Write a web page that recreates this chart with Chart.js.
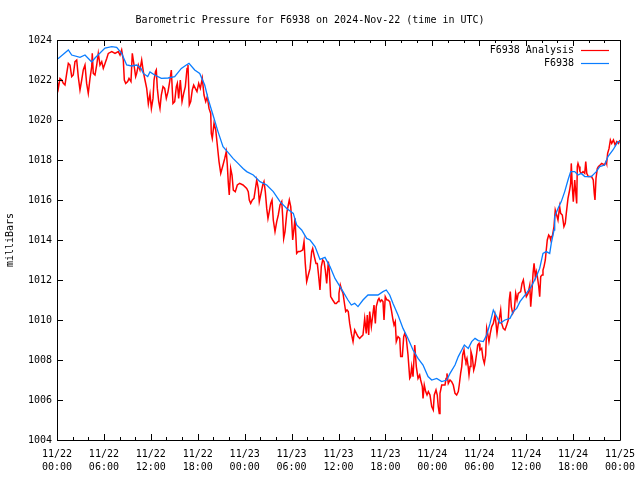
<!DOCTYPE html>
<html>
<head>
<meta charset="utf-8">
<script src="https://cdn.jsdelivr.net/npm/chart.js@4.4.1/dist/chart.umd.min.js"></script>
<style>
html,body{margin:0;padding:0;background:#fff;}
#wrap{width:640px;height:480px;}
</style>
</head>
<body>
<div id="wrap"><canvas id="c" width="640" height="480"></canvas></div>
<script>
// ---- Data (hours since 2024-11-22 00:00 UTC, pressure in mb) ----
const titleText = "Barometric Pressure for F6938 on 2024-Nov-22 (time in UTC)";
const seriesNames = ["F6938 Analysis", "F6938"];
const tickDates = ["11/22","11/22","11/22","11/22","11/23","11/23","11/23","11/23","11/24","11/24","11/24","11/24","11/25"];
const tickTimes = ["00:00","06:00","12:00","18:00","00:00","06:00","12:00","18:00","00:00","06:00","12:00","18:00","00:00"];

const analysisHours = [
0,0.17,0.38,0.6,0.81,1.02,1.24,1.45,1.66,1.88,2.08,2.3,2.52,2.72,2.94,3.16,3.36,3.58,3.79,4.0,
4.22,4.44,4.51,4.64,4.86,5.08,5.28,5.5,5.72,5.92,6.14,6.36,6.56,7.0,7.42,7.84,8.06,8.27,8.48,8.61,
8.79,9.04,9.21,9.46,9.63,9.85,10.06,10.19,10.4,10.61,10.83,11.04,11.25,11.47,11.68,11.89,12.07,12.28,12.41,12.6,
12.7,12.83,13.01,13.17,13.34,13.56,13.77,13.98,14.2,14.41,14.62,14.83,15.05,15.26,15.39,15.56,15.77,15.99,16.2,16.41,
16.63,16.75,16.92,17.1,17.3,17.48,17.69,17.9,18.12,18.33,18.58,18.8,19.02,19.22,19.44,19.66,19.73,19.86,20.08,20.3,
20.5,20.72,20.94,21.23,21.45,21.65,21.78,21.91,22.03,22.21,22.38,22.55,22.8,23.06,23.36,23.79,24.26,24.46,24.59,24.77,
24.98,25.19,25.32,25.54,25.74,25.87,26.09,26.31,26.47,26.64,26.82,26.98,27.15,27.33,27.5,27.66,27.88,28.1,28.3,28.52,
28.74,28.86,28.99,29.16,29.38,29.58,29.71,29.89,30.01,30.14,30.31,30.44,30.65,30.86,31.08,31.42,31.59,31.75,31.93,32.14,
32.36,32.57,32.7,32.91,33.12,33.29,33.47,33.63,33.8,33.98,34.15,34.31,34.49,34.7,34.82,35.0,35.26,35.55,35.72,35.94,
36.06,36.23,36.41,36.58,36.79,36.92,37.09,37.25,37.43,37.64,37.86,38.07,38.28,38.49,38.71,38.92,39.13,39.35,39.55,39.68,
39.86,39.99,40.2,40.41,40.54,40.71,40.83,41.05,41.18,41.35,41.53,41.69,41.82,41.98,42.2,42.33,42.55,42.76,42.97,43.1,
43.26,43.39,43.61,43.83,43.95,44.16,44.34,44.47,44.67,44.89,45.11,45.23,45.36,45.53,45.75,45.95,46.17,46.38,46.51,46.72,
46.81,46.97,47.15,47.32,47.49,47.7,47.92,48.12,48.25,48.47,48.63,48.76,48.89,48.98,49.2,49.4,49.62,49.75,49.87,50.04,
50.26,50.47,50.68,50.9,51.11,51.32,51.44,51.62,51.76,51.88,52.05,52.18,52.3,52.43,52.56,52.69,52.82,52.94,53.11,53.29,
53.46,53.67,53.8,53.97,54.09,54.31,54.48,54.65,54.82,54.95,55.08,55.24,55.41,55.59,55.8,56.01,56.14,56.27,56.44,56.61,
56.74,56.87,57.07,57.29,57.51,57.71,57.84,57.97,58.1,58.28,58.48,58.66,58.83,58.99,59.3,59.47,59.64,59.82,60.02,60.24,
60.46,60.58,60.75,60.88,61.01,61.17,61.3,61.43,61.61,61.73,61.86,62.03,62.15,62.28,62.45,62.57,62.7,62.88,63.01,63.14,
63.21,63.34,63.56,63.72,63.9,64.07,64.28,64.41,64.62,64.83,65.0,65.13,65.35,65.56,65.69,65.77,65.9,66.03,66.21,66.33,
66.46,66.54,66.63,66.76,66.88,67.05,67.27,67.49,67.62,67.75,67.94,68.16,68.36,68.58,68.71,68.8,68.93,69.1,69.23,69.45,
69.66,70.0,70.22,70.29,70.42,70.6,70.77,70.94,71.16,71.38,71.59,71.81,72.0
];
const analysisValues = [
1022.0,1021.58,1022.08,1022.0,1021.83,1021.75,1022.33,1022.83,1022.75,1022.17,1022.25,1022.92,1023.0,1022.17,1021.5,1022.0,1022.5,1022.75,1021.83,1021.33,
1022.08,1022.67,1023.33,1022.33,1022.25,1022.75,1023.33,1022.75,1022.92,1022.58,1022.83,1023.08,1023.33,1023.42,1023.33,1023.42,1023.25,1023.5,1023.0,1022.0,
1021.83,1021.92,1022.08,1021.92,1023.33,1022.75,1022.17,1022.33,1022.75,1022.5,1023.0,1022.42,1022.0,1021.58,1020.8,1021.3,1020.58,1021.08,1022.0,1022.42,
1022.5,1021.58,1020.92,1020.58,1021.25,1021.67,1021.58,1021.08,1021.42,1021.92,1022.5,1020.83,1020.92,1021.67,1021.83,1021.08,1022.0,1020.92,1021.33,1021.67,
1022.58,1022.75,1020.75,1020.92,1021.5,1021.75,1021.58,1021.42,1021.83,1021.58,1022.08,1021.25,1020.92,1021.17,1020.58,1020.33,1019.33,1019.08,1019.83,1019.5,
1018.75,1017.92,1017.33,1017.75,1018.08,1018.42,1017.75,1016.83,1016.25,1017.58,1017.25,1016.5,1016.42,1016.75,1016.83,1016.75,1016.58,1016.42,1016.0,1015.83,
1016.0,1016.08,1016.42,1017.0,1016.58,1015.92,1016.33,1016.75,1016.92,1016.42,1015.58,1015.08,1015.42,1015.83,1016.0,1015.0,1014.42,1014.92,1015.25,1015.75,
1015.92,1015.17,1014.08,1014.42,1015.33,1015.75,1016.0,1015.67,1015.0,1014.0,1014.58,1015.08,1013.33,1013.42,1013.42,1013.5,1013.92,1012.83,1011.92,1012.25,
1012.58,1013.42,1013.58,1013.17,1012.83,1012.83,1012.17,1011.5,1012.67,1013.0,1012.92,1012.5,1011.83,1012.92,1012.5,1011.17,1011.0,1010.83,1010.83,1010.92,
1011.33,1011.75,1011.5,1011.33,1010.75,1010.42,1010.5,1010.42,1009.83,1009.33,1008.92,1009.5,1009.33,1009.17,1009.08,1009.17,1009.25,1010.08,1009.33,1010.25,
1009.25,1010.42,1009.67,1010.33,1010.75,1009.83,1010.67,1011.0,1011.08,1010.92,1011.0,1010.92,1010.0,1011.17,1011.0,1011.0,1010.92,1010.5,1010.0,1009.75,
1009.92,1008.92,1009.17,1009.08,1008.17,1008.17,1009.17,1009.33,1009.08,1008.25,1007.08,1007.17,1007.67,1007.17,1008.75,1007.67,1007.08,1007.25,1007.0,1006.67,
1006.08,1006.75,1006.42,1006.25,1006.42,1006.25,1005.67,1005.5,1006.25,1006.5,1006.25,1005.67,1005.33,1006.33,1006.75,1006.75,1006.75,1007.08,1007.33,1006.83,
1007.0,1006.92,1006.75,1006.33,1006.25,1006.42,1006.75,1007.33,1007.67,1008.25,1008.5,1008.08,1007.92,1008.08,1007.75,1007.25,1007.67,1008.42,1008.17,1007.5,
1007.75,1008.33,1008.75,1008.83,1008.5,1008.58,1008.08,1007.83,1008.25,1009.58,1009.33,1008.92,1009.33,1009.67,1009.83,1010.25,1009.83,1009.33,1009.83,1010.17,
1010.5,1009.83,1009.58,1009.5,1009.75,1010.0,1011.0,1011.42,1010.67,1010.33,1010.5,1011.33,1011.0,1011.33,1011.42,1011.83,1012.0,1011.5,1011.17,1011.33,
1011.75,1010.67,1011.5,1012.33,1012.83,1012.17,1012.42,1012.17,1011.67,1011.17,1012.17,1012.25,1012.5,1012.67,1013.0,1013.5,1014.0,1014.25,1014.17,1014.0,
1014.17,1014.17,1014.67,1015.5,1015.25,1015.0,1015.67,1015.33,1015.25,1014.67,1014.83,1015.33,1016.08,1016.5,1016.83,1017.83,1016.67,1015.92,1017.0,1016.42,
1015.83,1017.67,1017.83,1017.67,1017.42,1017.33,1017.42,1017.33,1017.92,1017.33,1017.17,1017.17,1017.17,1017.0,1016.33,1016.0,1017.08,1017.58,1017.67,1017.75,
1017.83,1017.75,1017.92,1017.83,1018.33,1018.58,1019.0,1018.83,1019.0,1018.75,1018.92,1018.83,1019.0
];

const stationHours = [
0,0.17,1.45,1.88,2.94,3.58,4.44,4.86,6.14,7.0,7.63,8.27,8.91,9.55,10.19,10.74,11.04,11.6,11.89,12.49,
13.34,14.2,15.05,15.9,16.54,16.88,17.61,18.25,18.89,19.31,19.95,20.59,21.23,21.87,22.51,23.15,23.79,24.26,25.1,25.96,
26.82,27.66,28.52,29.38,30.22,30.65,31.29,31.93,32.36,33.0,33.63,34.27,34.91,35.55,35.94,36.58,37.21,37.64,38.07,38.49,
39.13,39.77,40.41,41.05,41.69,42.11,42.55,42.97,43.61,44.25,44.89,45.53,46.17,46.81,47.45,47.92,48.56,49.2,49.84,50.26,
50.9,51.32,51.76,52.09,52.6,53.03,53.46,53.88,54.52,54.95,55.38,55.8,56.23,56.65,57.29,57.93,58.35,58.79,59.21,60.02,
60.66,61.3,61.73,62.15,62.57,63.01,63.21,63.56,63.65,64.07,64.49,64.93,65.35,65.69,66.21,66.63,67.05,67.49,68.33,68.97,
69.4,70.04,70.46,71.1,71.74,72.0
];
const stationValues = [
1023.05,1023.08,1023.5,1023.25,1023.13,1023.25,1022.9,1023.1,1023.6,1023.67,1023.63,1023.33,1022.75,1022.7,1022.75,1022.58,1022.33,1022.17,1022.4,1022.25,
1022.08,1022.1,1022.17,1022.58,1022.75,1022.83,1022.5,1022.33,1021.75,1021.08,1020.25,1019.42,1018.67,1018.38,1018.08,1017.83,1017.58,1017.42,1017.25,1016.92,
1016.75,1016.42,1015.92,1015.58,1015.33,1014.75,1014.5,1014.08,1014.0,1013.67,1013.03,1013.13,1012.67,1012.08,1011.83,1011.42,1011.0,1010.75,1010.83,1010.67,
1011.0,1011.25,1011.25,1011.25,1011.42,1011.5,1011.25,1010.83,1010.25,1009.58,1009.08,1008.5,1008.08,1007.75,1007.17,1007.0,1007.08,1006.92,1007.0,1007.33,
1007.75,1008.17,1008.5,1008.75,1008.58,1008.92,1009.08,1008.97,1008.92,1009.25,1009.83,1010.5,1010.17,1009.83,1010.0,1010.08,1010.42,1010.58,1010.92,1011.33,
1011.67,1012.17,1012.58,1013.33,1013.42,1013.33,1013.83,1014.5,1015.17,1015.58,1015.92,1016.42,1017.0,1017.42,1017.42,1017.25,1017.33,1017.17,1017.17,1017.42,
1017.67,1017.75,1018.17,1018.5,1018.92,1018.92
];

const seriesColors = ["#ff0000", "#0a7dff"];

// ---- build ----
const toPoints = (xs, ys) => xs.map((x, i) => ({x: x, y: ys[i]}));
const MONO = '"DejaVu Sans Mono", "Liberation Mono", monospace';

const framePlugin = {
  id: 'gnuplotFrame',
  afterDatasetsDraw(chart) {
    const ctx = chart.ctx;
    const a = chart.chartArea;
    const xs = chart.scales.x, ys = chart.scales.y;
    ctx.save();
    ctx.strokeStyle = '#000';
    ctx.lineWidth = 1;
    ctx.beginPath();
    ctx.rect(Math.round(a.left) + 0.5, Math.round(a.top) + 0.5, Math.round(a.right - a.left), Math.round(a.bottom - a.top));
    ctx.stroke();
    ctx.beginPath();
    for (let v = ys.min; v <= ys.max; v += 2) {
      const py = Math.round(ys.getPixelForValue(v)) + 0.5;
      ctx.moveTo(a.left, py); ctx.lineTo(a.left + 6, py);
      ctx.moveTo(a.right, py); ctx.lineTo(a.right - 6, py);
    }
    for (let h = xs.min; h <= xs.max; h += 2) {
      const px = Math.round(xs.getPixelForValue(h)) + 0.5;
      const len = (h % 6 === 0) ? 6 : 3;
      ctx.moveTo(px, a.bottom); ctx.lineTo(px, a.bottom - len);
      ctx.moveTo(px, a.top); ctx.lineTo(px, a.top + len);
    }
    ctx.stroke();
    ctx.font = '10px ' + MONO;
    ctx.fillStyle = '#000';
    ctx.textAlign = 'right';
    ctx.textBaseline = 'middle';
    chart.data.datasets.forEach((ds, i) => {
      const y = a.top + 9.5 + i * 13;
      ctx.fillText(ds.label, a.right - 46, y + 0.5);
      ctx.beginPath();
      ctx.strokeStyle = ds.borderColor;
      ctx.lineWidth = 1.2;
      ctx.moveTo(a.right - 39, Math.round(y) + 0.5);
      ctx.lineTo(a.right - 11, Math.round(y) + 0.5);
      ctx.stroke();
    });
    ctx.restore();
  }
};

Chart.defaults.font.family = MONO;
Chart.defaults.font.size = 10;
Chart.defaults.color = '#000';

new Chart(document.getElementById('c'), {
  type: 'line',
  data: {
    datasets: [
      { label: seriesNames[0], data: toPoints(analysisHours, analysisValues), borderColor: seriesColors[0], borderWidth: 1.5, pointRadius: 0, tension: 0, order: 2 },
      { label: seriesNames[1], data: toPoints(stationHours, stationValues), borderColor: seriesColors[1], borderWidth: 1.3, pointRadius: 0, tension: 0, order: 1 }
    ]
  },
  options: {
    responsive: false,
    animation: false,
    devicePixelRatio: 1,
    layout: { padding: { left: 0, right: 20, top: 0, bottom: 0 } },
    plugins: {
      legend: { display: false },
      tooltip: { enabled: false },
      title: { display: true, text: titleText, font: { size: 10, family: MONO, weight: 'normal' }, color: '#000', padding: { top: 14, bottom: 14 } }
    },
    scales: {
      x: {
        type: 'linear', min: 0, max: 72,
        grid: { display: false, drawTicks: false },
        border: { display: false },
        ticks: {
          stepSize: 6, maxRotation: 0, autoSkip: false, padding: 8,
          font: { size: 10, family: MONO, lineHeight: 1.3 },
          callback: (v) => { const i = Math.round(v / 6); return [tickDates[i], tickTimes[i]]; }
        },
        afterFit: (s) => { s.height = 40; s.paddingLeft = 0; s.paddingRight = 0; }
      },
      y: {
        type: 'linear', min: 1004, max: 1024,
        grid: { display: false, drawTicks: false },
        border: { display: false },
        ticks: { stepSize: 2, padding: 5, font: { size: 10, family: MONO }, callback: (v) => String(v) },
        title: { display: true, text: 'milliBars', font: { size: 10, family: MONO }, padding: { top: 4, bottom: 0 } },
        afterFit: (s) => { s.width = 57; s.paddingTop = 0; s.paddingBottom = 0; }
      }
    }
  },
  plugins: [framePlugin]
});
</script>
</body>
</html>
